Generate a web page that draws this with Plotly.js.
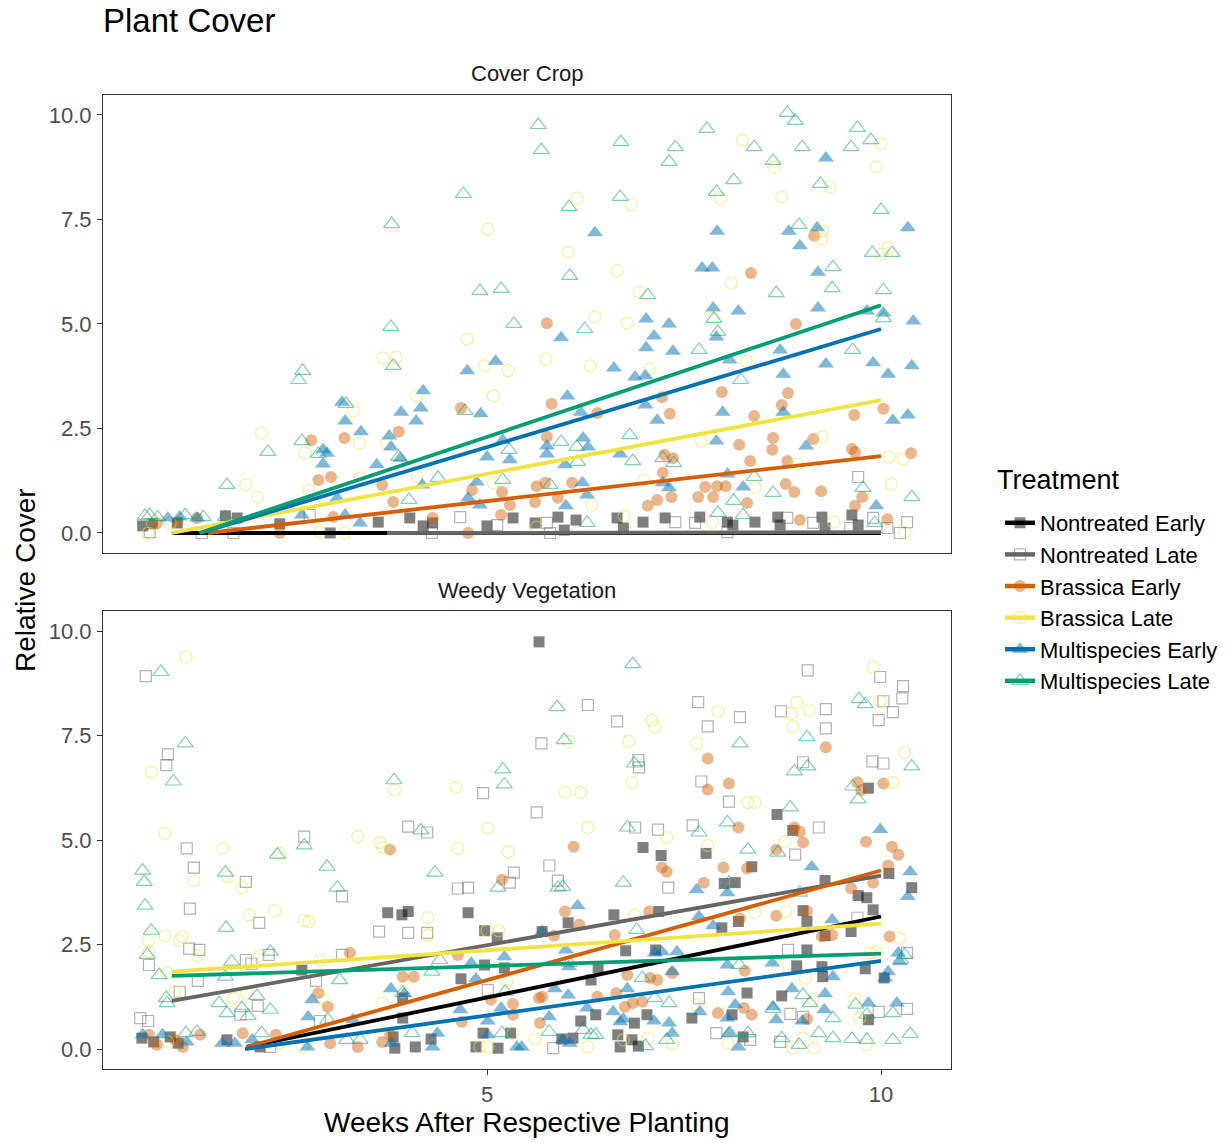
<!DOCTYPE html>
<html>
<head>
<meta charset="utf-8">
<script src="https://cdn.plot.ly/plotly-3.0.1.min.js"></script>
<style>html,body{margin:0;padding:0;background:#fff;}</style>
</head>
<body>
<div id="chart" style="width:1230px;height:1143px;"></div>
<script>
// ---------- labels / ticks ----------
const treatments = ['Nontreated Early','Nontreated Late','Brassica Early','Brassica Late','Multispecies Early','Multispecies Late'];
const panels = ['Cover Crop','Weedy Vegetation'];
const xTickVals = [5, 10];
const xTickText = ['5', '10'];
const yTickVals = [0, 2.5, 5, 7.5, 10];
const yTickText = ['0.0', '2.5', '5.0', '7.5', '10.0'];

// ---------- Cover Crop panel: points [week, cover] ----------
const coverNE = [[5.61,0.24],[5.90,0.38],[5.98,0.07],[6.13,0.31],[6.65,0.36],[6.73,0.12],[6.98,0.26],[7.26,0.36],[7.70,0.38],[8.05,0.26],[8.12,0.19],[8.40,0.26],[8.69,0.38],[8.72,0.19],[9.25,0.38],[9.29,0.12],[9.63,0.43],[9.71,0.19],[0.63,0.17],[0.76,0.22],[1.07,0.24],[1.68,0.41],[1.83,0.36],[2.37,0.22],[3.01,0.00],[3.62,0.26],[4.02,0.36],[4.19,0.17],[4.31,0.24],[5.00,0.17],[5.33,0.36]];
const coverNL = [[9.71,1.34],[5.76,0.24],[5.80,0.00],[7.39,0.26],[7.64,0.24],[8.05,0.02],[8.81,0.36],[9.14,0.24],[9.90,0.36],[10.08,0.12],[10.33,0.26],[10.24,0.00],[9.61,0.12],[0.72,0.02],[1.38,0.00],[2.75,0.43],[1.78,0.00],[4.66,0.38],[5.13,0.19],[4.30,0.00]];
const coverBE = [[8.35,6.22],[5.76,5.02],[8.92,5.00],[9.15,7.11],[7.98,3.37],[8.82,3.35],[8.74,3.06],[5.82,3.09],[6.40,2.87],[7.22,3.25],[7.32,2.85],[8.39,2.80],[9.66,2.82],[10.03,2.97],[5.76,2.30],[8.20,2.11],[8.63,2.27],[8.62,1.99],[9.14,2.25],[9.63,2.01],[9.67,1.94],[10.38,1.91],[7.25,1.87],[7.36,1.79],[8.34,1.72],[8.81,1.72],[7.23,1.44],[6.08,1.20],[5.63,1.12],[5.74,1.20],[5.90,0.84],[5.61,0.74],[7.16,0.79],[7.34,0.86],[7.77,1.10],[7.92,1.12],[8.03,1.12],[7.68,0.86],[7.87,0.86],[8.79,1.17],[8.90,0.98],[9.24,1.00],[8.30,0.72],[9.76,0.86],[9.67,0.65],[7.04,0.65],[10.08,0.33],[8.97,0.31],[4.67,2.99],[2.77,2.22],[3.19,2.27],[3.88,2.42],[2.86,1.27],[3.02,1.34],[3.67,1.15],[3.81,0.74],[4.81,1.03],[5.19,0.98],[5.29,0.67],[5.18,0.43],[3.05,0.38],[2.37,0.00],[4.76,0.00],[4.31,0.36],[0.81,0.24],[1.07,0.26],[1.32,0.36]];
const coverBL = [[8.24,9.40],[10.00,9.31],[9.94,8.76],[8.64,8.76],[9.35,8.28],[8.74,8.04],[6.14,8.01],[6.83,7.85],[7.96,8.01],[6.03,6.72],[6.65,6.27],[8.10,5.98],[9.26,7.22],[9.25,7.03],[10.09,6.82],[10.01,6.67],[6.93,5.77],[6.37,5.17],[6.78,5.02],[7.87,5.14],[5.75,4.16],[6.31,4.00],[7.06,3.92],[8.29,4.11],[7.72,2.20],[9.25,2.30],[10.10,1.82],[10.28,1.77],[10.13,1.17],[8.40,1.10],[6.99,1.27],[6.33,0.67],[8.93,1.65],[10.30,0.02],[7.86,0.26],[6.74,0.41],[5.63,0.14],[9.40,0.26],[5.01,7.27],[4.75,4.64],[4.97,4.00],[5.27,3.88],[3.68,4.19],[3.85,4.21],[5.08,3.28],[4.11,3.28],[3.30,2.92],[3.38,2.15],[3.73,2.15],[2.14,2.39],[2.69,1.91],[1.94,1.15],[2.09,0.86],[2.74,1.03],[4.11,1.36],[3.39,1.32],[5.08,1.20],[0.70,0.00],[2.88,0.02],[3.20,0.00],[0.76,0.22],[0.98,0.24]];
const coverME = [[9.30,8.97],[6.37,7.18],[7.92,7.22],[8.83,7.22],[9.19,7.30],[8.97,6.87],[10.34,7.30],[7.73,6.34],[7.86,6.34],[9.20,6.24],[8.19,5.31],[7.87,5.38],[9.20,5.38],[10.41,5.07],[7.02,5.12],[7.31,5.00],[7.12,4.71],[5.94,4.67],[7.02,4.43],[7.36,4.35],[7.91,4.69],[8.72,4.38],[9.82,5.31],[10.03,5.26],[6.61,3.95],[6.88,3.73],[7.01,3.76],[8.08,4.14],[8.76,3.80],[9.30,4.04],[9.90,4.07],[10.09,3.80],[10.39,4.00],[6.02,3.28],[7.99,2.89],[7.16,2.70],[10.15,2.70],[10.34,2.82],[8.76,2.89],[7.01,3.06],[6.19,2.89],[7.91,2.20],[6.69,1.89],[5.76,2.08],[5.76,1.89],[5.99,1.63],[6.22,2.27],[6.28,2.06],[9.05,2.08],[8.05,1.41],[8.25,1.10],[6.21,1.20],[6.27,0.91],[6.00,0.65],[9.94,0.65],[7.23,1.20],[7.31,1.08],[5.11,4.11],[4.75,3.88],[4.19,3.40],[4.16,2.99],[3.91,2.89],[4.10,2.68],[4.92,2.85],[3.16,3.13],[3.20,2.68],[3.40,2.42],[3.76,2.32],[3.78,2.06],[3.90,1.79],[2.92,1.99],[2.97,1.91],[2.92,1.65],[3.60,1.63],[5.20,2.22],[5.00,1.82],[5.29,1.75],[4.87,1.22],[4.18,1.15],[4.76,0.84],[4.91,0.67],[3.10,0.84],[2.65,0.43],[3.39,0.24],[3.20,0.43],[1.10,0.38],[0.95,0.36],[1.32,0.36]];
const coverML = [[4.70,8.11],[3.79,7.39],[4.91,5.79],[5.18,5.84],[5.34,5.00],[3.78,4.93],[3.81,4.00],[2.66,3.88],[2.61,3.66],[4.72,2.92],[3.21,3.09],[2.22,1.94],[2.65,2.20],[2.86,1.89],[5.28,1.99],[1.70,1.15],[4.01,0.79],[4.38,1.32],[5.20,1.27],[3.88,1.82],[0.66,0.41],[0.72,0.43],[0.82,0.38],[1.17,0.43],[1.40,0.38],[1.68,0.38],[5.65,9.76],[5.69,9.16],[6.70,9.35],[7.39,9.23],[7.31,8.88],[7.79,9.67],[8.39,9.23],[8.63,8.90],[8.81,10.05],[8.91,9.86],[9.00,9.23],[9.70,9.69],[9.62,9.23],[9.87,9.40],[8.13,8.44],[7.91,8.16],[6.04,7.80],[6.69,8.04],[9.23,8.35],[10.00,7.73],[6.05,6.15],[7.04,5.69],[8.96,7.37],[9.39,6.36],[9.38,5.86],[8.67,5.74],[9.89,6.70],[10.14,6.70],[10.03,5.81],[6.24,4.88],[7.88,5.12],[7.93,4.81],[10.03,5.14],[7.69,4.38],[6.81,2.34],[5.94,2.18],[6.14,2.06],[6.15,1.70],[6.85,1.72],[7.23,1.79],[7.37,1.67],[8.22,3.66],[9.64,4.38],[8.39,1.34],[8.63,0.96],[8.13,0.77],[9.77,1.08],[10.39,0.86],[5.80,1.15],[8.25,0.43],[9.92,0.24],[6.27,0.24],[7.93,0.48]];

// ---------- Weedy Vegetation panel: points [week, cover] ----------
const weedyNE = [[5.66,9.74],[9.84,6.24],[8.68,5.61],[8.88,5.23],[6.98,4.82],[7.21,4.63],[7.78,4.68],[8.36,4.36],[8.01,3.96],[8.15,3.98],[9.29,4.03],[9.71,3.67],[9.82,3.62],[9.90,3.33],[10.10,4.20],[10.39,3.86],[6.61,3.21],[6.03,3.02],[5.70,2.81],[7.18,3.29],[9.01,3.31],[9.06,3.05],[8.19,3.05],[7.98,2.90],[9.29,2.71],[9.62,2.81],[6.76,2.35],[7.14,2.37],[9.06,2.37],[8.93,1.99],[9.25,1.97],[9.80,1.92],[9.26,1.73],[6.41,1.94],[6.32,1.65],[10.04,1.70],[8.30,1.34],[8.74,1.27],[6.38,0.82],[6.19,0.67],[6.87,0.62],[7.03,0.82],[7.60,0.74],[8.11,0.82],[9.84,0.70],[5.95,0.24],[6.09,0.26],[6.66,0.34],[6.69,0.05],[6.84,0.22],[6.92,0.07],[8.25,0.29],[3.74,3.26],[3.92,3.21],[4.00,3.29],[4.76,3.26],[4.97,2.83],[5.13,2.66],[4.97,2.01],[5.22,1.94],[4.67,1.68],[2.65,1.89],[3.93,1.22],[3.93,0.74],[4.95,0.38],[4.86,0.05],[5.14,0.02],[5.30,0.38],[4.09,0.05],[4.29,0.24],[3.81,0.29],[3.83,0.02],[1.70,0.22],[2.12,0.05],[0.62,0.26],[0.77,0.17],[0.98,0.29],[1.08,0.14]];
const weedyNL = [[0.67,8.92],[0.95,7.05],[0.93,6.79],[1.19,4.80],[1.28,4.34],[1.23,3.36],[1.94,4.00],[2.11,3.02],[2.68,5.08],[3.16,3.65],[4.00,5.32],[4.24,5.18],[3.63,2.81],[4.00,2.78],[4.24,2.78],[4.95,6.12],[4.63,3.84],[4.76,3.86],[5.34,4.22],[5.29,3.98],[1.22,2.40],[1.35,2.37],[0.71,2.01],[1.10,1.37],[1.33,1.63],[1.94,2.13],[2.01,2.04],[2.23,2.25],[3.16,2.25],[2.83,1.63],[2.09,1.03],[1.87,0.82],[0.60,0.74],[0.70,0.67],[2.88,0.67],[5.01,1.41],[2.25,0.05],[9.07,9.06],[9.99,8.90],[10.28,8.68],[10.27,8.39],[10.03,8.32],[10.15,8.06],[9.97,7.87],[6.28,8.23],[6.65,7.84],[7.68,8.30],[7.80,7.72],[8.21,7.94],[8.73,8.08],[9.30,8.13],[9.30,7.67],[5.69,7.31],[6.92,6.91],[6.93,6.74],[9.89,6.88],[10.03,6.83],[9.01,6.86],[7.72,6.40],[8.07,5.92],[5.63,5.66],[6.88,5.30],[7.17,5.25],[7.61,5.35],[9.21,5.30],[8.91,4.65],[5.79,4.39],[5.90,4.03],[7.30,3.86],[9.70,3.14],[8.82,2.37],[10.33,2.30],[7.69,1.22],[8.85,0.84],[9.01,0.77],[9.97,0.89],[10.33,0.96],[7.91,0.38],[8.34,0.22],[8.72,0.17],[5.84,0.02]];
const weedyBE = [[9.30,7.22],[7.80,6.95],[8.07,6.35],[7.80,6.21],[9.70,6.38],[9.75,6.19],[10.03,6.35],[8.19,5.30],[8.90,5.30],[8.97,5.20],[9.01,4.94],[6.10,4.84],[9.81,4.96],[10.14,4.84],[10.22,4.65],[7.22,4.34],[7.28,4.24],[8.00,4.34],[8.30,4.32],[7.75,3.98],[10.09,4.39],[9.90,3.98],[8.67,4.77],[9.62,3.84],[5.99,3.29],[6.17,2.97],[7.06,3.29],[8.21,3.12],[8.67,3.19],[9.06,3.29],[6.62,2.73],[10.11,2.69],[9.25,2.69],[5.85,2.71],[9.38,2.73],[6.78,1.77],[7.07,1.70],[7.16,1.65],[7.35,1.82],[8.27,1.87],[5.66,1.22],[5.70,1.25],[6.40,1.25],[6.64,1.34],[6.85,1.10],[6.97,1.13],[6.75,1.01],[7.93,0.86],[8.26,0.98],[8.36,0.82],[9.06,0.72],[5.67,0.62],[3.77,4.77],[5.19,4.05],[3.26,2.30],[4.63,2.25],[3.93,1.73],[4.07,1.73],[2.86,1.34],[2.98,1.01],[5.05,1.18],[5.33,1.08],[5.33,0.82],[4.68,0.65],[1.90,0.38],[2.32,0.34],[1.36,0.34],[0.81,0.10],[1.04,0.22],[1.14,0.05],[0.71,0.34],[3.36,0.05],[3.67,0.17],[3.01,0.14],[3.77,0.34]];
const weedyBL = [[1.18,9.38],[0.74,6.62],[0.91,5.16],[1.65,4.80],[1.28,4.03],[1.71,4.12],[1.89,3.86],[2.37,4.68],[3.36,5.08],[3.64,4.94],[3.68,4.82],[3.83,6.19],[4.61,6.26],[5.01,5.28],[4.63,4.80],[5.27,4.72],[4.25,3.14],[4.25,2.73],[5.00,2.83],[5.15,2.83],[1.98,3.21],[2.31,3.31],[2.68,3.07],[2.74,3.05],[0.91,2.71],[1.13,2.69],[1.10,2.59],[0.70,2.59],[0.71,2.33],[1.33,2.23],[2.11,2.23],[2.88,2.13],[1.04,1.37],[0.94,1.82],[1.78,1.22],[1.95,1.34],[2.91,1.22],[3.67,1.10],[5.25,1.63],[5.33,0.38],[3.93,1.37],[2.37,0.14],[2.66,0.05],[4.91,0.05],[5.01,0.05],[0.95,0.17],[9.90,9.14],[9.99,8.32],[8.93,8.30],[9.09,8.11],[8.86,8.03],[8.88,7.72],[7.93,8.08],[7.09,7.87],[7.13,7.70],[6.04,7.36],[6.80,7.36],[7.66,7.31],[10.30,7.10],[6.84,6.38],[5.99,6.14],[6.19,6.14],[8.31,5.90],[8.40,5.90],[10.15,6.38],[6.28,5.30],[7.28,5.06],[7.80,4.87],[8.78,4.96],[6.87,3.21],[8.40,3.26],[8.79,3.29],[10.23,2.66],[9.86,2.30],[9.94,2.33],[8.69,1.94],[9.04,1.70],[9.14,1.18],[9.67,1.20],[9.73,0.74],[5.61,0.24],[6.28,0.05],[6.73,0.22],[7.04,0.26],[7.35,0.12],[8.06,0.14],[8.88,0.02],[9.01,0.26],[9.15,0.02],[9.81,0.10],[7.66,1.06]];
const weedyME = [[9.99,5.25],[9.12,4.36],[10.37,4.24],[10.34,3.65],[7.66,3.81],[8.05,3.74],[6.15,3.43],[5.70,2.81],[7.69,3.17],[7.87,2.95],[9.38,3.09],[10.22,2.30],[10.24,2.09],[9.39,1.73],[10.09,1.85],[10.05,1.70],[7.22,2.33],[7.41,2.33],[7.13,2.30],[6.00,2.37],[6.04,1.97],[7.35,1.85],[8.62,2.06],[8.05,2.01],[5.86,1.44],[6.03,1.29],[6.78,1.44],[6.60,0.89],[6.27,0.98],[5.79,0.77],[7.70,0.89],[8.06,1.37],[8.15,1.06],[8.05,0.74],[8.87,1.44],[9.29,1.32],[9.28,0.94],[9.84,1.10],[10.20,1.10],[8.63,1.01],[8.67,0.70],[9.00,0.67],[7.12,0.67],[7.31,0.62],[6.73,0.72],[7.35,0.38],[8.07,0.38],[8.19,0.05],[6.69,0.65],[5.96,0.22],[6.05,0.14],[5.44,0.05],[2.78,1.18],[2.73,0.77],[3.78,1.44],[3.95,1.32],[3.79,0.14],[3.30,0.70],[4.80,2.06],[4.86,1.68],[4.66,0.94],[5.22,2.21],[5.01,0.67],[5.01,0.34],[4.37,0.38],[4.31,0.05],[5.38,0.05],[5.18,0.98],[1.64,0.14],[1.80,0.14],[2.02,0.22],[0.63,0.34],[0.88,0.34],[1.19,0.17],[2.72,0.05]];
const weedyML = [[0.86,9.02],[1.17,7.31],[1.02,6.40],[3.82,6.43],[5.20,6.69],[5.22,6.33],[4.16,5.23],[2.34,4.65],[2.68,4.87],[2.97,4.36],[1.68,4.22],[4.34,4.22],[3.10,3.86],[5.14,3.86],[0.63,4.27],[0.65,4.00],[0.66,3.43],[1.69,2.90],[0.74,2.83],[0.69,2.25],[0.84,1.77],[0.93,1.22],[0.94,1.10],[1.76,2.09],[2.25,2.33],[1.68,1.73],[1.60,1.10],[1.70,0.86],[1.89,0.98],[1.97,0.79],[2.08,1.27],[2.25,0.94],[3.13,1.65],[2.98,0.70],[3.93,1.34],[4.40,2.13],[4.30,1.85],[2.14,0.38],[1.18,0.38],[1.32,0.41],[3.22,0.22],[3.39,0.22],[5.19,0.38],[4.05,0.38],[5.23,1.37],[6.85,9.21],[5.89,8.18],[5.98,7.39],[9.72,8.37],[9.80,8.25],[8.21,7.31],[9.06,7.46],[6.87,6.83],[8.90,6.64],[9.07,6.76],[10.39,6.76],[9.64,6.28],[9.71,5.97],[8.85,5.78],[6.78,5.30],[7.69,5.18],[8.05,5.42],[8.69,4.70],[8.31,4.77],[6.73,3.98],[5.90,3.86],[5.96,3.88],[8.07,3.98],[8.97,3.74],[6.90,2.85],[10.25,2.13],[10.30,2.25],[6.97,1.70],[6.04,2.06],[8.20,2.01],[7.13,1.22],[7.31,1.10],[9.01,1.29],[9.10,1.10],[9.68,1.06],[9.82,0.82],[10.15,0.86],[9.39,0.74],[8.63,0.96],[5.79,0.41],[6.22,0.46],[6.32,0.34],[6.38,0.34],[7.28,0.22],[8.08,0.38],[8.31,0.38],[8.74,0.26],[9.21,0.38],[9.39,0.26],[9.63,0.24],[9.82,0.22],[10.15,0.22],[10.37,0.36],[8.96,0.10],[7.01,0.07]];

// ---------- fitted trend lines (start / end per treatment, order as treatments) ----------
const fitCoverX0 = [1.00, 3.73, 1.46, 1.00, 1.36, 1.35];
const fitCoverY0 = [0.00, 0.00, 0.00, 0.00, 0.00, 0.00];
const fitCoverX1 = [10, 10, 10, 10, 10, 10];
const fitCoverY1 = [0.00, 0.02, 1.84, 3.18, 4.88, 5.45];
const fitWeedyX0 = [1.95, 1.00, 1.95, 1.00, 1.93, 1.00];
const fitWeedyY0 = [0.05, 1.15, 0.05, 1.85, 0.00, 1.75];
const fitWeedyX1 = [10, 10, 10, 10, 10, 10];
const fitWeedyY1 = [3.17, 4.15, 4.27, 3.00, 2.11, 2.28];

// ---------- styles ----------
const FONT = '"Liberation Sans", Arial, Helvetica, sans-serif';
const lineColors = ['#000000', '#666666', '#D55E00', '#F0E442', '#0072B2', '#009E73'];
const markerColors = ['rgba(0,0,0,0.5)', 'rgba(102,102,102,0.5)', 'rgba(213,94,0,0.45)', 'rgba(240,228,66,0.55)', 'rgba(0,114,178,0.5)', 'rgba(0,158,115,0.5)'];
const symbols = ['square', 'square-open', 'circle', 'circle-open', 'triangle-up', 'triangle-up-open'];
const sizes = [11, 11, 12, 12, 14, 14];

const coverPts = [coverNE, coverNL, coverBE, coverBL, coverME, coverML];
const weedyPts = [weedyNE, weedyNL, weedyBE, weedyBL, weedyME, weedyML];

function markerFor(i) {
  return {symbol: symbols[i], size: sizes[i], color: markerColors[i],
          line: {width: symbols[i].endsWith('open') ? 1.2 : 0, color: markerColors[i]}};
}

const traces = [];
// points
[[coverPts, 'x2', 'y2'], [weedyPts, 'x', 'y']].forEach(([pts, xa, ya]) => {
  pts.forEach((arr, i) => {
    traces.push({type: 'scatter', mode: 'markers', xaxis: xa, yaxis: ya,
      x: arr.map(p => p[0]), y: arr.map(p => p[1]),
      marker: markerFor(i), showlegend: false, hoverinfo: 'skip', cliponaxis: true});
  });
});
// trend lines
[[fitCoverX0, fitCoverY0, fitCoverX1, fitCoverY1, 'x2', 'y2'],
 [fitWeedyX0, fitWeedyY0, fitWeedyX1, fitWeedyY1, 'x', 'y']].forEach(([x0, y0, x1, y1, xa, ya]) => {
  treatments.forEach((t, i) => {
    traces.push({type: 'scatter', mode: 'lines', xaxis: xa, yaxis: ya,
      x: [x0[i], x1[i]], y: [y0[i], y1[i]],
      line: {color: lineColors[i], width: 3.8}, showlegend: false, hoverinfo: 'skip'});
  });
});
// legend entries
treatments.forEach((t, i) => {
  traces.push({type: 'scatter', mode: 'lines+markers', x: [null], y: [null], name: t,
    line: {color: lineColors[i], width: 4.5}, marker: markerFor(i), showlegend: true});
});

const xRange = [0.127, 10.888];
const yRange = [-0.478, 10.478];
const axisCommon = {showgrid: false, zeroline: false, showline: true, linecolor: '#333333', linewidth: 1,
  mirror: true, ticks: 'outside', ticklen: 5, tickwidth: 1, tickcolor: '#333333', ticklabelstandoff: 1,
  tickfont: {family: FONT, size: 22, color: '#4d4d4d'}};

const layout = {
  width: 1230, height: 1143,
  margin: {l: 103, r: 279, t: 95, b: 74, pad: 0, autoexpand: false},
  paper_bgcolor: '#ffffff', plot_bgcolor: '#ffffff',
  font: {family: FONT, color: '#000000'},
  title: {text: 'Plant Cover', xref: 'container', x: 103 / 1230, xanchor: 'left',
          yref: 'container', y: 1 - 20 / 1143, yanchor: 'middle', font: {family: FONT, size: 33, color: '#000000'}},
  xaxis: Object.assign({}, axisCommon, {anchor: 'y', domain: [0, 1], range: xRange, tickvals: xTickVals, ticktext: xTickText}),
  xaxis2: Object.assign({}, axisCommon, {anchor: 'y2', domain: [0, 1], range: xRange, matches: 'x', ticks: '', showticklabels: false}),
  yaxis: Object.assign({}, axisCommon, {anchor: 'x', domain: [0, 0.4702], range: yRange, tickvals: yTickVals, ticktext: yTickText}),
  yaxis2: Object.assign({}, axisCommon, {anchor: 'x2', domain: [0.5298, 1], range: yRange, tickvals: yTickVals, ticktext: yTickText}),
  legend: {x: (1000 - 103) / 848, xanchor: 'left', y: (1069 - 502) / 974, yanchor: 'top', bgcolor: 'rgba(0,0,0,0)',
           font: {family: FONT, size: 22, color: '#000000'},
           itemwidth: 30, tracegroupgap: 0},
  annotations: [
    {text: panels[0], xref: 'paper', yref: 'paper', x: 0.5, y: (1069 - 73) / 974, xanchor: 'center', yanchor: 'middle',
     showarrow: false, font: {family: FONT, size: 22, color: '#1a1a1a'}},
    {text: panels[1], xref: 'paper', yref: 'paper', x: 0.5, y: (1069 - 590) / 974, xanchor: 'center', yanchor: 'middle',
     showarrow: false, font: {family: FONT, size: 22, color: '#1a1a1a'}},
    {text: 'Relative Cover', xref: 'paper', yref: 'paper', x: (25 - 103) / 848, y: (1069 - 580) / 974, xanchor: 'center', yanchor: 'middle',
     textangle: -90, showarrow: false, font: {family: FONT, size: 28, color: '#000000'}},
    {text: 'Weeks After Respective Planting', xref: 'paper', yref: 'paper', x: (527 - 103) / 848, y: (1069 - 1122) / 974,
     xanchor: 'center', yanchor: 'middle', showarrow: false, font: {family: FONT, size: 28, color: '#000000'}},
    {text: 'Treatment', xref: 'paper', yref: 'paper', x: (995 - 103) / 848, y: (1069 - 480) / 974,
     xanchor: 'left', yanchor: 'middle', showarrow: false, font: {family: FONT, size: 27, color: '#000000'}}
  ],
  showlegend: true
};

Plotly.newPlot('chart', traces, layout, {staticPlot: true, displayModeBar: false});
</script>
</body>
</html>
